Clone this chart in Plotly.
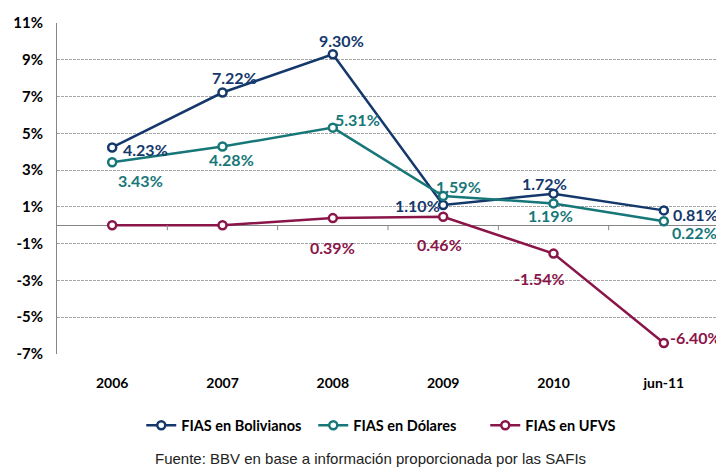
import plotly.graph_objects as go

categories = ["2006", "2007", "2008", "2009", "2010", "jun-11"]
bolivianos = [4.23, 7.22, 9.30, 1.10, 1.72, 0.81]
dolares = [3.43, 4.28, 5.31, 1.59, 1.19, 0.22]
ufvs = [0.0, 0.0, 0.39, 0.46, -1.54, -6.40]
ufvs_labels_shown = [False, False, True, True, True, True]
y_ticks = [-7, -5, -3, -1, 1, 3, 5, 7, 9, 11]

C_BOB = "#14386B"
C_USD = "#177778"
C_UFV = "#8A1549"
FONT = "Lato"

# label offsets in pixels (dx right, dy down) relative to each marker
off_bob = [(33, 2), (12, -15), (9, -14), (-26, 0), (-9, -10), (32, 4)]
off_usd = [(28, 18), (9, 13), (25, -8), (15, -10), (-3, 12), (31, 11)]
off_ufv = [(0, 0), (0, 0), (0, 29), (-4, 28), (-14, 25), (32, -5)]

fig = go.Figure()
annotations = []


def add(name, vals, color, offsets, show=None):
    xs = list(range(len(categories)))
    fig.add_trace(go.Scatter(
        x=xs, y=vals, name=name, mode="lines+markers",
        line=dict(color=color, width=2.5),
        marker=dict(symbol="circle", size=8, color="white", line=dict(color=color, width=2.5)),
        cliponaxis=False,
    ))
    for i, v in enumerate(vals):
        if show is not None and not show[i]:
            continue
        dx, dy = offsets[i]
        annotations.append(dict(
            x=xs[i], y=v, xref="x", yref="y", text=f"{v:.2f}%", showarrow=False,
            xshift=dx, yshift=-dy,
            font=dict(family=FONT, size=16, color=color, weight="bold"),
        ))


add("FIAS en Bolivianos", bolivianos, C_BOB, off_bob)
add("FIAS en Dólares", dolares, C_USD, off_usd)
add("FIAS en UFVS", ufvs, C_UFV, off_ufv, ufvs_labels_shown)

# small tick marks on the zero line at category boundaries
for i in range(len(categories) - 1):
    fig.add_shape(type="line", xref="x", yref="y", x0=i + 0.5, x1=i + 0.5,
                  ysizemode="pixel", yanchor=0, y0=0, y1=-5,
                  line=dict(color="#868686", width=1))

annotations.append(dict(
    text="Fuente: BBV en base a información proporcionada por las SAFIs",
    xref="paper", yref="paper", x=0.474, y=-0.316, yanchor="middle", showarrow=False,
    font=dict(family="Liberation Sans", size=15, color="#222"),
))

fig.update_layout(
    width=716, height=460,
    margin=dict(l=44, r=5, t=11, b=114),
    plot_bgcolor="white", paper_bgcolor="white",
    showlegend=True,
    legend=dict(orientation="h", x=0.517, xanchor="center", y=-0.167, yanchor="top",
                font=dict(family=FONT, size=14.5, color="#000", weight="bold"),
                itemwidth=30, entrywidth=127),
    xaxis=dict(
        tickvals=list(range(len(categories))), ticktext=categories,
        range=[-0.5, len(categories) - 0.5],
        showgrid=False, showline=False, ticks="", zeroline=False,
        tickfont=dict(family=FONT, size=14, color="#000", weight="bold"),
        ticklabelstandoff=19,
    ),
    yaxis=dict(
        range=[-7, 11], tickvals=y_ticks, ticktext=[f"{t}%" for t in y_ticks],
        showgrid=True, gridcolor="#A6A6A6", griddash="3px,1px", gridwidth=1,
        zeroline=True, zerolinecolor="#868686", zerolinewidth=1,
        showline=True, linecolor="#868686", linewidth=1,
        ticks="", ticklabelstandoff=10,
        tickfont=dict(family=FONT, size=15, color="#000", weight="bold"),
    ),
    annotations=annotations,
)

fig.write_html("out.html")
